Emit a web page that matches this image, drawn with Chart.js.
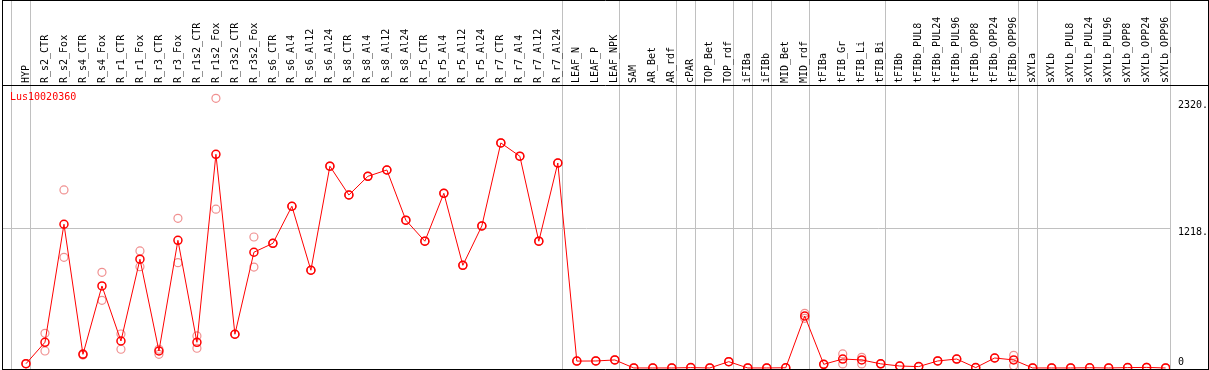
<!DOCTYPE html>
<html><head><meta charset="utf-8">
<script src="https://cdn.jsdelivr.net/npm/chart.js@4.4.0/dist/chart.umd.min.js"></script>
<style>html,body{margin:0;padding:0;background:#fff;}#wrap{width:1209px;height:370px;}</style>
</head><body><div id="wrap"><canvas id="c" width="1209" height="370"></canvas></div>
<script>
const categories = ['HYP','R_s2_CTR','R_s2_Fox','R_s4_CTR','R_s4_Fox','R_r1_CTR','R_r1_Fox','R_r3_CTR','R_r3_Fox','R_r1s2_CTR','R_r1s2_Fox','R_r3s2_CTR','R_r3s2_Fox','R_s6_CTR','R_s6_Al4','R_s6_Al12','R_s6_Al24','R_s8_CTR','R_s8_Al4','R_s8_Al12','R_s8_Al24','R_r5_CTR','R_r5_Al4','R_r5_Al12','R_r5_Al24','R_r7_CTR','R_r7_Al4','R_r7_Al12','R_r7_Al24','LEAF_N','LEAF_P','LEAF_NPK','SAM','AR_Bet','AR_rdf','cPAR','TOP_Bet','TOP_rdf','iFIBa','iFIBb','MID_Bet','MID_rdf','tFIBa','tFIB_Gr','tFIB_Li','tFIB_Bi','tFIBb','tFIBb_PUL8','tFIBb_PUL24','tFIBb_PUL96','tFIBb_OPP8','tFIBb_OPP24','tFIBb_OPP96','sXYLa','sXYLb','sXYLb_PUL8','sXYLb_PUL24','sXYLb_PUL96','sXYLb_OPP8','sXYLb_OPP24','sXYLb_OPP96'];
const seriesName = 'Lus10020360';
const meanValues = [37,224,1253,119,715,235,948,148,1113,224,1863,294,1009,1087,1410,852,1759,1508,1671,1726,1288,1105,1523,895,1238,1962,1846,1105,1787,60,61,70,0,0,0,3,0,55,0,0,2,453,32,78,70,36,17,12,61,78,3,87,70,0,0,0,2,0,3,5,0];
const repHigh = [37,302,1552,125,834,296,1020,163,1305,279,2351,294,1142,1087,1410,852,1759,1508,1671,1726,1288,1105,1523,895,1238,1962,1846,1105,1787,60,61,70,0,0,0,3,0,55,0,0,2,476,32,122,93,36,17,12,61,78,3,87,110,0,0,0,2,0,3,5,0];
const repLow = [37,148,965,112,590,163,883,119,918,172,1384,294,880,1087,1410,852,1759,1508,1671,1726,1288,1105,1523,895,1238,1962,1846,1105,1787,60,61,70,0,0,0,3,0,55,0,0,2,433,32,35,35,36,17,12,61,78,3,87,20,0,0,0,2,0,3,5,0];
const groupEnds = [-1,0,28,31,34,35,37,38,39,41,45,52,53,60];
const yTickValues = [0,1218,2320];
const yTickLabels = ['0','1218.','2320.'];
const yGridShown = [false,true,false];

const FONT = {family:'"DejaVu Sans Mono", monospace', size:10};
const xMin = -1.21, xMax = 60.23, sepOffset = 0.23;

const toPts = arr => arr.map((v,i)=>({x:i,y:v}));
const xTicks = [];
categories.forEach((c,i)=>xTicks.push({value:i, sep:false}));
groupEnds.forEach(e=>xTicks.push({value:e+sepOffset, sep:true}));
xTicks.sort((a,b)=>a.value-b.value);

const zeroPad = s => { s.paddingLeft = 0; s.paddingRight = 0; s.paddingTop = 0; s.paddingBottom = 0; };

const framePlugin = {
  id:'frame',
  afterDraw(chart){
    const ctx = chart.ctx, a = chart.chartArea;
    ctx.save();
    ctx.strokeStyle = '#000'; ctx.lineWidth = 1;
    ctx.beginPath();
    ctx.moveTo(a.left-0.5, 0.5); ctx.lineTo(chart.width-0.5, 0.5);
    ctx.moveTo(a.left-0.5, a.top+0.5); ctx.lineTo(chart.width-0.5, a.top+0.5);
    ctx.moveTo(a.left-0.5, a.bottom+0.5); ctx.lineTo(chart.width-0.5, a.bottom+0.5);
    ctx.moveTo(a.left-0.5, 0); ctx.lineTo(a.left-0.5, chart.height);
    ctx.moveTo(chart.width-0.5, 0); ctx.lineTo(chart.width-0.5, chart.height);
    ctx.stroke();
    ctx.fillStyle = '#ff0000';
    ctx.font = '10px "DejaVu Sans Mono", monospace';
    ctx.textBaseline = 'middle'; ctx.textAlign = 'left';
    ctx.fillText(seriesName, a.left+7, a.top+12);
    ctx.restore();
  }
};

new Chart(document.getElementById('c'), {
  type:'line',
  data:{datasets:[
    {label:seriesName, data:toPts(meanValues), borderColor:'#ff0000', borderWidth:1, tension:0,
     pointRadius:4, pointBorderWidth:1.5, pointBorderColor:'#ff0000', pointBackgroundColor:'rgba(0,0,0,0)'},
    {label:seriesName+' rep1', data:toPts(repHigh), showLine:false, pointRadius:4, pointBorderWidth:1.2,
     pointBorderColor:'#f09090', pointBackgroundColor:'rgba(0,0,0,0)'},
    {label:seriesName+' rep2', data:toPts(repLow), showLine:false, pointRadius:4, pointBorderWidth:1.2,
     pointBorderColor:'#f09090', pointBackgroundColor:'rgba(0,0,0,0)'}
  ]},
  options:{
    responsive:false, animation:false, devicePixelRatio:1,
    layout:{autoPadding:false, padding:{left:3,right:0,top:0,bottom:1}},
    plugins:{legend:{display:false}, tooltip:{enabled:false}},
    scales:{
      x:{type:'linear', position:'top', min:xMin, max:xMax,
        afterBuildTicks:s=>{ s.ticks = xTicks.map(t=>({value:t.value, sep:t.sep})); },
        afterFit:s=>{ s.height = 85; zeroPad(s); },
        ticks:{autoSkip:false, minRotation:90, maxRotation:90, padding:-83, labelOffset:12, color:'#000', font:FONT,
          callback:(v,i,t)=> t[i].sep ? '' : categories[Math.round(t[i].value)]},
        grid:{color:c=> (c.tick && c.tick.sep) ? '#c0c0c0' : 'rgba(0,0,0,0)', lineWidth:1, drawTicks:true, tickLength:85},
        border:{display:false}
      },
      y:{type:'linear', position:'right', min:-9, max:2467,
        afterBuildTicks:s=>{ s.ticks = yTickValues.map(v=>({value:v})); },
        afterFit:s=>{ s.width = 39; zeroPad(s); },
        ticks:{padding:8, crossAlign:'near', color:'#000', labelOffset:4,
          font:{family:'"DejaVu Sans Mono", monospace', size:10, lineHeight:1.0},
          callback:(v,i)=> i === 0 ? [yTickLabels[i], '', ''] : yTickLabels[i]},
        grid:{color:c=> (c.tick && yGridShown[yTickValues.indexOf(c.tick.value)]) ? '#c0c0c0' : 'rgba(0,0,0,0)', drawTicks:false},
        border:{display:false}
      }
    }
  },
  plugins:[framePlugin]
});
</script></body></html>
